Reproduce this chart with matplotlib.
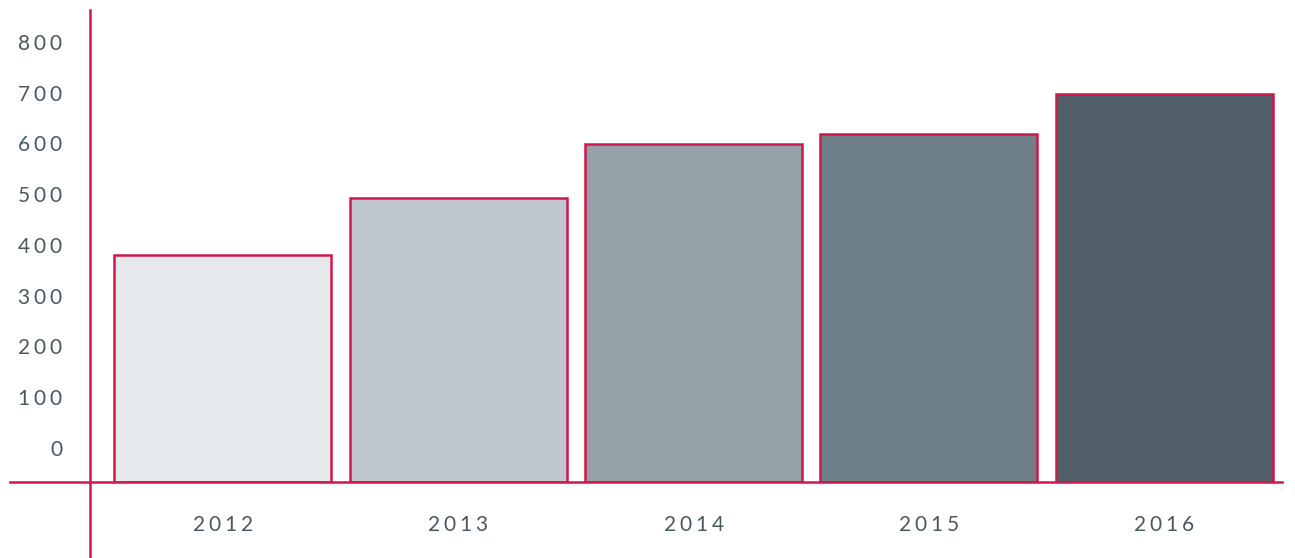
import numpy as np
import matplotlib.pyplot as plt

years = ['2012', '2013', '2014', '2015', '2016']
values = [380, 492, 598, 618, 698]
bar_colors = ['#E5E9EC', '#BEC5CC', '#94A1A8', '#708088', '#525F69']
yticks = [0, 100, 200, 300, 400, 500, 600, 700, 800]

red = '#D0174A'
txt = '#4A5860'
plt.rcParams['font.family'] = ['Lato', 'DejaVu Sans']


def spaced(s):
    # the original labels use wide letter spacing
    return '\u2009\u200a'.join(s)


fig = plt.figure(figsize=(12.95, 5.58), dpi=100)
W, H = 1295, 558
ax = fig.add_axes([90 / W, (H - 482) / H, (1282 - 90) / W, (482 - 10) / H])

ymin, ymax = -67, 863
x = np.arange(len(years))
ax.bar(x, np.array(values) - ymin, bottom=ymin, width=0.922,
       color=bar_colors, edgecolor=red, linewidth=1.8, zorder=2)

ax.set_xlim(-0.565, 4.5)
ax.set_ylim(ymin, ymax)

for s in ax.spines.values():
    s.set_visible(False)

# crossing axis lines that stick out past the plot area
ax.plot([0, 0], [-(H - 482) / (482 - 10), 1], transform=ax.transAxes,
        color=red, lw=1.8, clip_on=False, zorder=3)
ax.plot([-80 / (1282 - 90), 1], [0, 0], transform=ax.transAxes,
        color=red, lw=1.8, clip_on=False, zorder=3)

ax.set_yticks(yticks)
ax.set_yticklabels([spaced(str(v)) for v in yticks])
ax.set_xticks(x)
ax.set_xticklabels([spaced(y) for y in years])
ax.tick_params(axis='y', length=0, pad=20, labelsize=15, labelcolor=txt)
ax.tick_params(axis='x', length=0, pad=23.5, labelsize=15, labelcolor=txt)

fig.savefig('out.png', dpi=100)
